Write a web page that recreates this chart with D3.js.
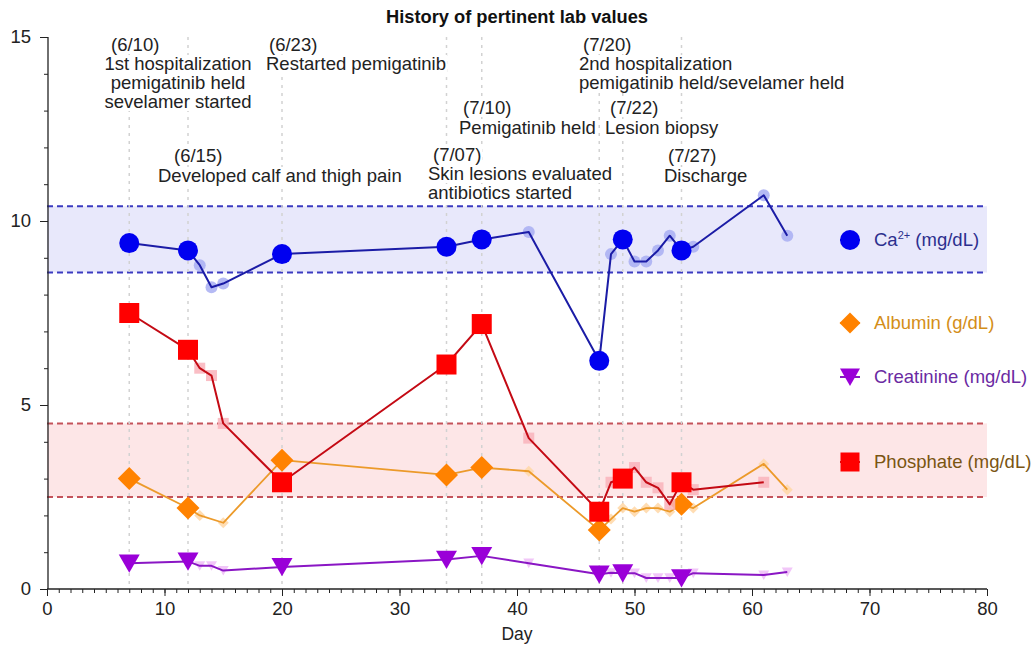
<!DOCTYPE html>
<html>
<head>
<meta charset="utf-8">
<script src="https://cdn.jsdelivr.net/npm/d3@7"></script>
<style>
  html, body { margin: 0; padding: 0; background: #fff; }
  svg { display: block; font-family: "Liberation Sans", Arial, Helvetica, sans-serif; }
</style>
</head>
<body>
<svg id="chart" width="1034" height="645"></svg>
<script>
// ---------------- DATA ----------------
const xTicks = [0, 10, 20, 30, 40, 50, 60, 70, 80];
const yTicks = [0, 5, 10, 15];

const eventDays  = [7, 12, 20, 34, 37, 47, 49, 54];
const eventDates = ["(6/10)", "(6/15)", "(6/23)", "(7/07)", "(7/10)", "(7/20)", "(7/22)", "(7/27)"];
const eventTexts = [
  ["1st hospitalization", "pemigatinib held", "sevelamer started"],
  ["Developed calf and thigh pain"],
  ["Restarted pemigatinib"],
  ["Skin lesions evaluated", "antibiotics started"],
  ["Pemigatinib held"],
  ["2nd hospitalization", "pemigatinib held/sevelamer held"],
  ["Lesion biopsy"],
  ["Discharge"]
];

const caDays   = [7, 12, 13, 14, 15, 20, 34, 37, 41, 47, 48, 49, 50, 51, 52, 53, 54, 55, 61, 63];
const caValues = [9.4, 9.2, 8.8, 8.2, 8.3, 9.1, 9.3, 9.5, 9.7, 6.2, 9.1, 9.5, 8.9, 8.9, 9.2, 9.6, 9.2, 9.3, 10.7, 9.6];
const caMajor  = [7, 12, 20, 34, 37, 47, 49, 54];

const phosDays   = [7, 12, 13, 14, 15, 20, 34, 37, 41, 47, 48, 49, 50, 51, 52, 53, 54, 55, 61];
const phosValues = [7.5, 6.5, 6.0, 5.8, 4.5, 2.9, 6.1, 7.2, 4.1, 2.1, 2.9, 3.0, 3.3, 2.9, 2.75, 2.3, 2.9, 2.7, 2.9];
const phosMajor  = [7, 12, 20, 34, 37, 47, 49, 54];

const albDays   = [7, 12, 13, 15, 20, 34, 37, 41, 47, 48, 49, 50, 51, 52, 53, 54, 55, 61, 63];
const albValues = [3.0, 2.2, 2.0, 1.8, 3.5, 3.1, 3.3, 3.2, 1.6, 1.9, 2.2, 2.1, 2.2, 2.2, 2.1, 2.3, 2.2, 3.4, 2.7];
const albMajor  = [7, 12, 20, 34, 37, 47, 54];

const creaDays   = [7, 12, 13, 14, 15, 20, 34, 37, 41, 47, 48, 49, 50, 51, 52, 53, 54, 55, 61, 63];
const creaValues = [0.7, 0.75, 0.63, 0.63, 0.5, 0.6, 0.8, 0.9, 0.7, 0.4, 0.44, 0.43, 0.43, 0.3, 0.3, 0.3, 0.3, 0.43, 0.38, 0.46];
const creaMajor  = [7, 12, 20, 34, 37, 47, 49, 54];

const caRange   = [8.6, 10.4];
const phosRange = [2.5, 4.5];

const seriesNames = ["Ca", "Albumin (g/dL)", "Creatinine (mg/dL)", "Phosphate (mg/dL)"];

// ---------------- LAYOUT ----------------
const svg = d3.select("#chart");
const x = d3.scaleLinear().domain([0, 80]).range([47, 987]);
const y = d3.scaleLinear().domain([0, 15]).range([589, 37]);
const FONT = 18.5;

// annotation placement (pixels)
const annLayout = [
  { dx: 111, dy: 51, lx: 178, anchor: "middle", ly: 70, step: 19 },
  { dx: 174, dy: 162, lx: 158, anchor: "start", ly: 182, step: 19 },
  { dx: 269, dy: 51, lx: 266, anchor: "start", ly: 70, step: 19 },
  { dx: 433, dy: 161, lx: 428, anchor: "start", ly: 180, step: 19 },
  { dx: 463, dy: 114, lx: 459, anchor: "start", ly: 134, step: 19 },
  { dx: 583, dy: 51, lx: 579, anchor: "start", ly: 70, step: 19 },
  { dx: 610, dy: 114, lx: 605, anchor: "start", ly: 134, step: 19 },
  { dx: 668, dy: 162, lx: 664, anchor: "start", ly: 182, step: 19 }
];

// ---------------- BANDS ----------------
const gBands = svg.append("g");
function band(range, fill, stroke) {
  gBands.append("rect")
    .attr("x", x(0)).attr("width", x(80) - x(0))
    .attr("y", y(range[1])).attr("height", y(range[0]) - y(range[1]))
    .attr("fill", fill);
  range.forEach(v => {
    gBands.append("line")
      .attr("x1", x(0)).attr("x2", x(80))
      .attr("y1", y(v)).attr("y2", y(v))
      .attr("stroke", stroke).attr("stroke-width", 2)
      .attr("stroke-dasharray", "6,4");
  });
}
band(caRange, "#e8e8fb", "#3a3ac0");
band(phosRange, "#fde6e7", "#c4525a");

// ---------------- EVENT LINES ----------------
svg.append("g").selectAll("line").data(eventDays).join("line")
  .attr("x1", d => x(d)).attr("x2", d => x(d))
  .attr("y1", y(15)).attr("y2", y(0))
  .attr("stroke", "#d2d2d2").attr("stroke-width", 1.5)
  .attr("stroke-dasharray", "3,5");

// ---------------- ANNOTATIONS ----------------
const gAnn = svg.append("g").attr("font-size", FONT).attr("fill", "#222");
function annText(str, px, py, anchor) {
  const t = gAnn.append("text").attr("x", px).attr("y", py)
    .attr("text-anchor", anchor).text(str);
  const bb = t.node().getBBox();
  gAnn.insert("rect", () => t.node())
    .attr("x", bb.x - 1).attr("y", bb.y + 2)
    .attr("width", bb.width + 2).attr("height", bb.height - 3)
    .attr("fill", "#fff");
}
eventDays.forEach((d, i) => {
  const L = annLayout[i];
  annText(eventDates[i], L.dx, L.dy, "start");
  eventTexts[i].forEach((s, j) => annText(s, L.lx, L.ly + j * L.step, L.anchor));
});

// ---------------- AXES ----------------
const gx = svg.append("g").attr("transform", `translate(0,${y(0)})`);
gx.call(d3.axisBottom(x).tickValues(d3.range(0, 81, 1)).tickSize(4).tickFormat(""))
  .call(g => g.select(".domain").remove());
gx.append("g").call(d3.axisBottom(x).tickValues(xTicks).tickSize(7).tickPadding(6).tickFormat(d3.format("d")))
  .call(g => g.selectAll("text").attr("font-size", FONT).attr("fill", "#222").attr("font-family", null))
  .call(g => g.select(".domain").attr("d", `M${x(0)},0H${x(80)}`));
gx.selectAll("line").attr("stroke", "#222");
gx.selectAll(".domain").attr("stroke", "#222").attr("stroke-width", 1.3);

const gy = svg.append("g").attr("transform", `translate(${x(0) + 1},0)`);
gy.call(d3.axisLeft(y).tickValues(d3.range(0, 16, 1)).tickSize(4).tickFormat(""))
  .call(g => g.select(".domain").remove());
gy.append("g").call(d3.axisLeft(y).tickValues(yTicks).tickSize(8).tickPadding(9).tickFormat(d3.format("d")))
  .call(g => g.selectAll("text").attr("font-size", FONT).attr("fill", "#222").attr("font-family", null))
  .call(g => g.select(".domain").attr("d", `M0,${y(15)}V${y(0)}`));
gy.selectAll("line").attr("stroke", "#222");
gy.selectAll(".domain").attr("stroke", "#222").attr("stroke-width", 1.3);

svg.append("text").attr("x", (x(0) + x(80)) / 2).attr("y", 640)
  .attr("text-anchor", "middle").attr("font-size", 17.5).attr("fill", "#222").text("Day");

svg.append("text").attr("x", 517).attr("y", 23)
  .attr("text-anchor", "middle").attr("font-size", 18.3).attr("font-weight", "bold")
  .attr("fill", "#111").text("History of pertinent lab values");

// ---------------- SHAPES ----------------
const shapes = {
  circle: s => d3.symbol(d3.symbolCircle, Math.PI * s * s / 4)(),
  square: s => `M${-s/2},${-s/2}h${s}v${s}h${-s}Z`,
  diamond: s => `M0,${-s/2}L${s/2},0L0,${s/2}L${-s/2},0Z`,
  tri: s => `M${-s/2},${-s*0.42}L${s/2},${-s*0.42}L0,${s*0.45}Z`
};

function drawSeries(days, vals, major, cfg) {
  const pts = days.map((d, i) => ({ d, v: vals[i], big: major.includes(d) }));
  const g = svg.append("g");
  g.selectAll("path.small").data(pts.filter(p => !p.big)).join("path")
    .attr("class", "small")
    .attr("transform", p => `translate(${x(p.d)},${y(p.v)})`)
    .attr("d", shapes[cfg.shape](cfg.smallSize))
    .attr("fill", cfg.light).attr("opacity", 0.85);
  g.append("path").datum(pts)
    .attr("d", d3.line().x(p => x(p.d)).y(p => y(p.v)))
    .attr("fill", "none").attr("stroke", cfg.line).attr("stroke-width", cfg.lw)
    .attr("stroke-linejoin", "round");
  g.selectAll("path.big").data(pts.filter(p => p.big)).join("path")
    .attr("class", "big")
    .attr("transform", p => `translate(${x(p.d)},${y(p.v)})`)
    .attr("d", shapes[cfg.shape](cfg.size))
    .attr("fill", cfg.fill);
}

const cfgAlb  = { shape: "diamond", size: 23, smallSize: 11, fill: "#ff8200", light: "#ffd7a6", line: "#ec9a2a", lw: 1.8 };
const cfgCrea = { shape: "tri", size: 21, smallSize: 11, fill: "#9a00d8", light: "#efbcf7", line: "#8a16c4", lw: 2 };
const cfgPhos = { shape: "square", size: 20, smallSize: 11, fill: "#ff0000", light: "#f9b3bb", line: "#c40a14", lw: 2 };
const cfgCa   = { shape: "circle", size: 20, smallSize: 12, fill: "#0000f0", light: "#a8aef2", line: "#1b1ca6", lw: 2 };

drawSeries(albDays, albValues, albMajor, cfgAlb);
drawSeries(creaDays, creaValues, creaMajor, cfgCrea);
drawSeries(phosDays, phosValues, phosMajor, cfgPhos);
drawSeries(caDays, caValues, caMajor, cfgCa);

// ---------------- LEGEND ----------------
const legend = [
  { cfg: cfgCa, cy: 240, color: "#2c2f8e", size: 20 },
  { cfg: cfgAlb, cy: 323, color: "#d48e18", size: 21 },
  { cfg: cfgCrea, cy: 377, color: "#6a2aa2", size: 20 },
  { cfg: cfgPhos, cy: 462, color: "#7a5512", size: 19 }
];
const gL = svg.append("g");
legend.forEach((e, i) => {
  gL.append("line").attr("x1", 840).attr("x2", 860).attr("y1", e.cy).attr("y2", e.cy)
    .attr("stroke", e.cfg.line).attr("stroke-width", 2);
  gL.append("path").attr("transform", `translate(850,${e.cy})`)
    .attr("d", shapes[e.cfg.shape](e.size)).attr("fill", e.cfg.fill);
  const t = gL.append("text").attr("x", 874).attr("y", e.cy + 6)
    .attr("font-size", FONT).attr("fill", e.color);
  if (i === 0) {
    t.append("tspan").text(seriesNames[0]);
    t.append("tspan").attr("font-size", 11).attr("dy", -7).text("2+");
    t.append("tspan").attr("dy", 7).text(" (mg/dL)");
  } else {
    t.text(seriesNames[i]);
  }
});
</script>
</body>
</html>
